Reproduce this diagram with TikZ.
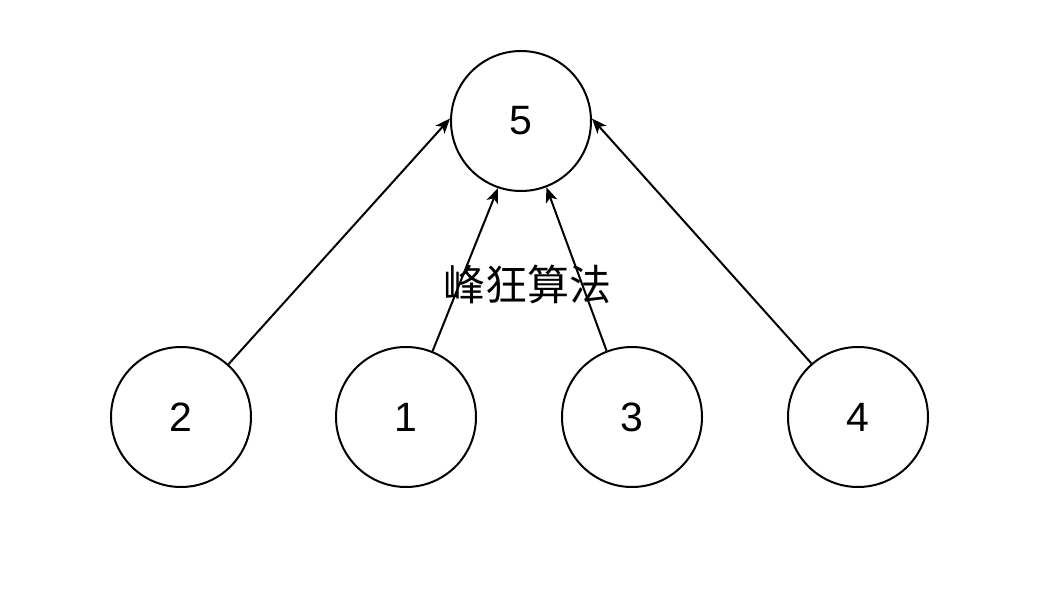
\documentclass[tikz,border=0pt]{standalone}
\usepackage{fontspec}
\setmainfont{Liberation Sans}
\newfontfamily\cjk{Noto Sans CJK SC}
\usetikzlibrary{arrows.meta}
\begin{document}
\begin{tikzpicture}[x=1pt,y=-1pt,
  vert/.style={draw,circle,line width=2pt,minimum size=140pt,inner sep=0pt,font=\fontsize{41}{44}\selectfont},
  arr/.style={line width=2pt,-{Stealth[length=15pt,width=12pt,inset=4pt]}}]
\useasboundingbox (0,0) rectangle (1053,589);
\node[vert] (n5) at (521,121) {5};
\node[vert] (n2) at (181,417) {2};
\node[vert] (n1) at (406,417) {1};
\node[vert] (n3) at (632,417) {3};
\node[vert] (n4) at (858,417) {4};
\node[font=\cjk\fontsize{42}{46}\selectfont] (lab) at (527,284) {峰狂算法};
\draw[arr] (n2.48) -- (n5.178);
\draw[arr] (n1.68) -- (n5.251);
\draw[arr] (n3.111) -- (n5.291);
\draw[arr] (n4.131) -- (n5.2);
\end{tikzpicture}
\end{document}
